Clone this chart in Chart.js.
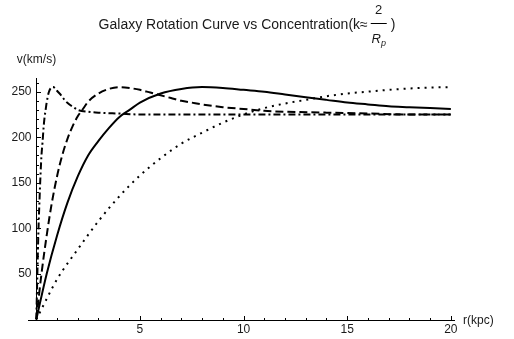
<!DOCTYPE html>
<html>
<head>
<meta charset="utf-8">
<script src="https://cdn.jsdelivr.net/npm/chart.js@4.4.0/dist/chart.umd.min.js"></script>
<style>
  html, body { margin: 0; padding: 0; background: #fff; }
  #wrap { width: 514px; height: 339px; }
</style>
</head>
<body>
<div id="wrap"><canvas id="curveChart" width="514" height="339"></canvas></div>
<script>
// radius (kpc) / speed (km/s) per concentration
const rSolid = [0, 0.5, 1, 1.5, 2, 2.5, 3, 3.5, 4, 4.5, 5, 6, 7, 8, 9, 10, 11, 12, 13, 14, 15, 16, 17, 18, 19, 20];
const vSolid = [0, 50, 92, 128, 157, 180, 196, 210, 222, 230, 238, 248, 253, 255, 254, 252, 250, 247, 244, 241, 238, 236, 234, 233, 232, 231];

const rDashed = [0, 0.25, 0.5, 0.75, 1, 1.25, 1.5, 1.75, 2, 2.25, 2.5, 3, 3.5, 4, 4.5, 5, 5.5, 6, 6.5, 7, 7.5, 8, 9, 10, 11, 12, 14, 16, 18, 20];
const vDashed = [0, 50, 92, 128, 157, 180, 198, 212, 223, 231, 239, 248, 253, 255, 254, 252, 249, 246, 243, 240, 238, 236, 233, 231, 229, 228, 227, 226, 225, 225];

const rDashDot = [0, 0.05, 0.1, 0.15, 0.2, 0.25, 0.3, 0.35, 0.4, 0.45, 0.5, 0.6, 0.7, 0.8, 0.9, 1, 1.2, 1.4, 1.6, 1.8, 2, 2.5, 3, 4, 5, 7, 10, 15, 20];
const vDashDot = [0, 48, 95, 128, 157, 180, 194, 210, 222, 230, 238, 249, 254, 255, 254, 251, 246, 240, 236, 233, 230, 228, 227, 226, 225, 225, 225, 225, 225];

const rDotted = [0, 1, 2, 3, 4, 5, 6, 7, 8, 9, 10, 11, 12, 13, 14, 15, 16, 17, 18, 19, 20];
const vDotted = [0, 44, 77, 108, 135, 158, 177, 193, 205, 216, 225, 232, 237, 241, 245, 248, 250, 252, 253.5, 254.5, 255];

const xTicks = [5, 10, 15, 20];
const yTicks = [50, 100, 150, 200, 250];
const xLabel = 'r(kpc)';
const yLabel = 'v(km/s)';
const titleMain = 'Galaxy Rotation Curve vs Concentration(k\u2248';

const FONT = '"Liberation Sans", Arial, Helvetica, sans-serif';

function pts(rs, vs) {
  return rs.map((r, i) => ({ x: r, y: vs[i] }));
}

function line(label, rs, vs, dash, width) {
  return {
    label: label,
    data: pts(rs, vs),
    borderColor: '#000',
    borderWidth: width,
    borderDash: dash,
    borderCapStyle: 'butt',
    pointRadius: 0,
    fill: false,
    tension: 0.4,
    cubicInterpolationMode: 'monotone'
  };
}

// axes, ticks and labels drawn Mathematica-style (axes through the origin, ticks inward)
const mmaAxes = {
  id: 'mmaAxes',
  afterDraw(chart) {
    const { ctx, chartArea, scales: { x, y } } = chart;
    const x0 = Math.round(x.getPixelForValue(0)) + 0.5;
    const y0 = Math.round(y.getPixelForValue(0)) + 0.5;
    ctx.save();
    ctx.strokeStyle = '#000';
    ctx.lineWidth = 1;

    ctx.beginPath();
    ctx.moveTo(chartArea.left, y0);
    ctx.lineTo(chartArea.right, y0);
    ctx.moveTo(x0, y0);
    ctx.lineTo(x0, chartArea.top);

    // minor + major ticks on x
    for (let v = 1; v <= x.max; v += 1) {
      const px = Math.round(x.getPixelForValue(v)) + 0.5;
      const len = xTicks.includes(v) ? 4.5 : 2.5;
      ctx.moveTo(px, y0);
      ctx.lineTo(px, y0 - len);
    }
    // minor + major ticks on y
    for (let v = 10; v <= y.max; v += 10) {
      const py = Math.round(y.getPixelForValue(v)) + 0.5;
      const len = yTicks.includes(v) ? 4.5 : 2.5;
      ctx.moveTo(x0, py);
      ctx.lineTo(x0 + len, py);
    }
    ctx.stroke();

    ctx.fillStyle = '#1a1a1a';
    ctx.font = '12px ' + FONT;
    ctx.textBaseline = 'middle';
    ctx.textAlign = 'center';
    xTicks.forEach(v => ctx.fillText(String(v), x.getPixelForValue(v), y0 + 9));
    ctx.textAlign = 'right';
    yTicks.forEach(v => ctx.fillText(String(v), x0 - 5, y.getPixelForValue(v)));

    ctx.textAlign = 'center';
    ctx.fillText(yLabel, x0, chartArea.top - 18);
    ctx.textAlign = 'left';
    ctx.fillText(xLabel, chartArea.right + 8, y0);

    // title with the fraction 2 / R_p
    ctx.font = '14px ' + FONT;
    const wMain = ctx.measureText(titleMain).width;
    const barW = 16;
    const wParen = ctx.measureText(')').width;
    const total = wMain + 3 + barW + 4 + wParen;
    let tx = 247 - total / 2;
    const ty = 25;
    ctx.textAlign = 'left';
    ctx.fillText(titleMain, tx, ty);
    tx += wMain + 3;
    ctx.beginPath();
    ctx.moveTo(tx, 23.5);
    ctx.lineTo(tx + barW, 23.5);
    ctx.stroke();
    ctx.textAlign = 'center';
    ctx.font = '13px ' + FONT;
    ctx.fillText('2', tx + barW / 2, 10);
    ctx.font = 'italic 13px ' + FONT;
    const wR = ctx.measureText('R').width;
    ctx.font = 'italic 9px ' + FONT;
    const wp = ctx.measureText('p').width;
    const rx = tx + barW / 2 - (wR + wp) / 2;
    ctx.textAlign = 'left';
    ctx.font = 'italic 13px ' + FONT;
    ctx.fillText('R', rx, 39);
    ctx.font = 'italic 9px ' + FONT;
    ctx.fillText('p', rx + wR, 43);
    ctx.font = '14px ' + FONT;
    ctx.fillText(')', tx + barW + 4, ty);
    ctx.restore();
  }
};

const ctx = document.getElementById('curveChart').getContext('2d');
const curveChart = new Chart(ctx, {
  type: 'line',
  data: {
    datasets: [
      line('solid', rSolid, vSolid, [], 2),
      line('dashed', rDashed, vDashed, [8, 4], 2),
      line('dash-dot', rDashDot, vDashDot, [7, 3, 2, 3], 2),
      line('dotted', rDotted, vDotted, [2, 5], 2)
    ]
  },
  options: {
    responsive: false,
    animation: false,
    layout: { padding: { left: 28, right: 59, top: 78, bottom: 19.5 } },
    plugins: {
      legend: { display: false },
      title: { display: false },
      tooltip: { enabled: false }
    },
    scales: {
      x: { type: 'linear', min: -0.4, max: 20.2, display: false },
      y: { type: 'linear', min: 0, max: 265, display: false }
    }
  },
  plugins: [mmaAxes]
});
</script>
</body>
</html>
